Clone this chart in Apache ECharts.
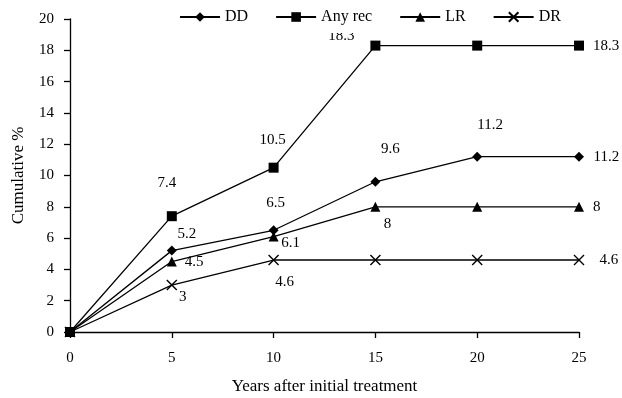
<!DOCTYPE html>
<html>
<head>
<meta charset="utf-8">
<script src="https://cdn.jsdelivr.net/npm/echarts@6/dist/echarts.min.js"></script>
<style>
  html, body { margin: 0; padding: 0; background: #fff; }
  #chart { width: 622px; height: 398px; }
</style>
</head>
<body>
<div id="chart"></div>
<script>
// years after initial treatment
const years = [0, 5, 10, 15, 20, 25]
const seriesNames = ['DD', 'Any rec', 'LR', 'DR']
const ddValues = [0, 5.2, 6.5, 9.6, 11.2, 11.2]
const anyRecValues = [0, 7.4, 10.5, 18.3, 18.3, 18.3]
const lrValues = [0, 4.5, 6.1, 8, 8, 8]
const drValues = [0, 3, 4.6, 4.6, 4.6, 4.6]
const yTicks = [0, 2, 4, 6, 8, 10, 12, 14, 16, 18, 20]
const xTicks = [0, 5, 10, 15, 20, 25]

const font = "'Liberation Serif', 'Times New Roman', serif"

// where each value label sits around its point (null = no label)
const at = (dx, dy) => ({ show: true, position: 'inside', offset: [dx, dy] })
const right = (d) => ({ show: true, position: 'right', distance: d })
const labelPlaces = {
  'DD': [null, at(15, -17), at(2, -27), at(15, -33), at(13, -32), right(9.5)],
  'Any rec': [null, at(-5, -33), at(-1, -28), at(-34, -10), null, right(9)],
  'LR': [null, right(8), at(17, 7), at(12, 17), null, right(9)],
  'DR': [null, at(11, 12), at(11, 22), null, null, right(13)],
}

const crossPath = 'path://M0,0L10,10M10,0L0,10'

function makeSeries(name, values, symbol) {
  const isCross = symbol === crossPath
  return {
    name: name,
    type: 'line',
    symbol: symbol,
    symbolSize: 10,
    showAllSymbol: true,
    lineStyle: { color: '#000', width: 1.3 },
    itemStyle: isCross
      ? { color: 'none', borderColor: '#000', borderWidth: 1.4 }
      : { color: '#000', borderWidth: 0 },
    label: {
      show: false,
      color: '#000',
      fontFamily: font,
      fontSize: 15,
    },
    emphasis: { disabled: true },
    animation: false,
    data: values.map((v, i) => {
      const item = { value: [years[i], v] }
      const lab = labelPlaces[name][i]
      if (lab) item.label = lab
      return item
    }),
  }
}

const chart = echarts.init(document.getElementById('chart'))
chart.setOption({
  backgroundColor: '#fff',
  animation: false,
  textStyle: { fontFamily: font, color: '#000' },
  grid: {
    left: 70,
    right: 43,
    top: 19,
    bottom: 66,
    containLabel: false,
    outerBoundsMode: 'none',
  },
  legend: {
    data: seriesNames,
    left: 174,
    top: 4,
    padding: [5, 5, 8, 5],
    backgroundColor: '#fff',
    itemWidth: 40,
    itemHeight: 12,
    itemGap: 27,
    textStyle: { fontFamily: font, fontSize: 16, color: '#000' },
  },
  xAxis: {
    type: 'value',
    min: xTicks[0],
    max: xTicks[xTicks.length - 1],
    interval: 5,
    name: 'Years after initial treatment',
    nameLocation: 'middle',
    nameGap: 46,
    nameTextStyle: { fontFamily: font, fontSize: 17, color: '#000' },
    axisLine: { lineStyle: { color: '#000', width: 1.3 } },
    axisTick: { show: true, length: 6, lineStyle: { color: '#000', width: 1.3 } },
    axisLabel: { margin: 19, fontFamily: font, fontSize: 15, color: '#000' },
    splitLine: { show: false },
  },
  yAxis: {
    type: 'value',
    min: yTicks[0],
    max: yTicks[yTicks.length - 1],
    interval: 2,
    name: 'Cumulative %',
    nameLocation: 'middle',
    nameGap: 43,
    nameTextStyle: { fontFamily: font, fontSize: 17, color: '#000' },
    axisLine: { show: true, lineStyle: { color: '#000', width: 1.3 } },
    axisTick: { show: true, length: 6, lineStyle: { color: '#000', width: 1.3 } },
    axisLabel: { margin: 16, fontFamily: font, fontSize: 15, color: '#000' },
    splitLine: { show: false },
  },
  series: [
    makeSeries('DD', ddValues, 'diamond'),
    makeSeries('Any rec', anyRecValues, 'rect'),
    makeSeries('LR', lrValues, 'triangle'),
    makeSeries('DR', drValues, crossPath),
  ],
})
</script>
</body>
</html>
